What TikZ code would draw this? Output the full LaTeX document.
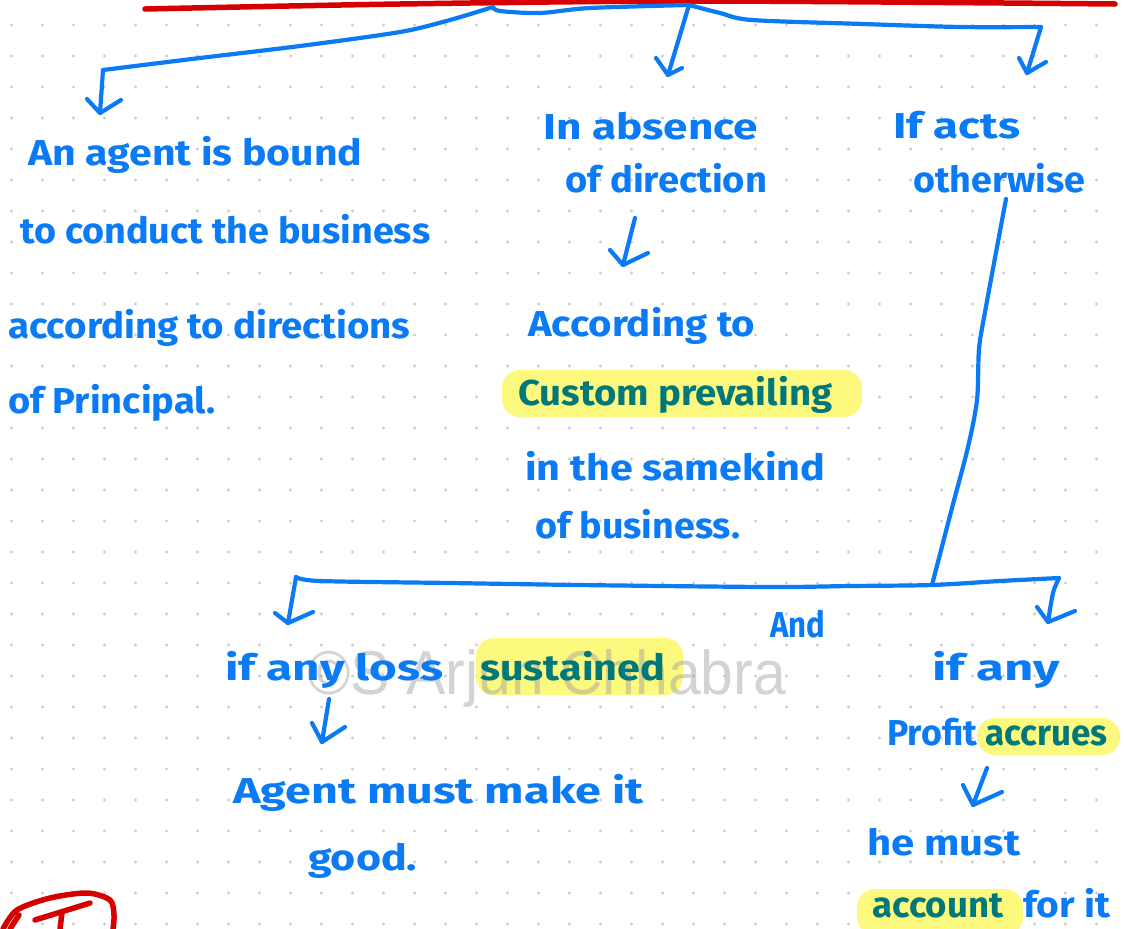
\documentclass[tikz,border=0pt]{standalone}
\usepackage{fontspec}
\setmainfont{Fira Sans}
\newfontfamily\markfont{Liberation Sans}
\usepackage{graphicx}
\definecolor{pen}{HTML}{0A7BF4}
\definecolor{tealink}{HTML}{00787A}
\definecolor{hilite}{HTML}{FDF97F}
\definecolor{redink}{HTML}{D60000}
\definecolor{dotc}{HTML}{CCCCCC}
\definecolor{wm}{HTML}{9E9E9E}
% stretch a line of writing horizontally to a given width, keeping its height
\newcommand{\handline}[2]{\resizebox{#1pt}{\height}{#2}}
\begin{document}
\begin{tikzpicture}[x=1pt,y=-1pt,
  ink/.style={draw=pen, line width=4.2pt, line cap=round, line join=round},
  redpen/.style={draw=redink, line width=5.5pt, line cap=round, line join=round},
  hand/.style={font=\fontsize{36}{40}\selectfont\bfseries, text=pen, inner sep=0pt, anchor=base west},
  marked/.style={hand, text=tealink},
  glow/.style={fill=hilite, rounded corners=18pt, draw=none}]

\useasboundingbox (0,0) rectangle (1125,929);
\fill[white] (0,0) rectangle (1125,929);

% dotted page
\foreach \i in {0,...,35}
  \foreach \j in {0,...,29}
    \fill[dotc] (11.5+31*\i, 25+31*\j) circle (1.6pt);

% highlighter marks
\fill[glow] (502,370) rectangle (862,417);
\fill[glow] (476,638) rectangle (683,695);
\fill[glow] (977,718) rectangle (1120,755);
\fill[glow] (857,889) rectangle (1023,935);

% watermark
\node[anchor=base west, inner sep=0pt, text=wm, opacity=0.45] (mark) at (307,694)
  {\resizebox{479pt}{\height}{\markfont\fontsize{62}{70}\selectfont ©S Arjun Chhabra}};

% red heading rule and corner mark
\draw[redpen] plot[smooth] coordinates {(145,9) (400,4) (700,1) (1115,4)};
\draw[redpen] plot[smooth] coordinates {(3,929) (17,910) (50,898) (87,893) (110,900) (114,915) (113,929)};
\draw[redpen] (10,929) -- (19,915);
\draw[redpen] (35,920) -- (90,903);
\draw[redpen] (62,913) -- (60,929);

% ---------- text ----------
\node[hand] (l1) at (28,165) {\handline{334}{An agent is bound}};
\node[hand] (l2) at (20,243) {\handline{410}{to conduct the business}};
\node[hand] (l3) at (8,338) {\handline{402}{according to directions}};
\node[hand] (l4) at (8,413) {\handline{207}{of Principal.}};

\node[hand] (m1) at (543,139) {\handline{215}{In absence}};
\node[hand] (m2) at (565,192) {\handline{202}{of direction}};
\node[hand] (m3) at (528,336) {\handline{227}{According to}};
\node[marked] (m4) at (518,405) {\handline{314}{Custom prevailing}};
\node[hand] (m5) at (525,480) {\handline{300}{in the samekind}};
\node[hand] (m6) at (535,538) {\handline{205}{of business.}};

\node[hand] (r1) at (893,138) {\handline{127}{If acts}};
\node[hand] (r2) at (913,192) {\handline{172}{otherwise}};

\node[hand] (and) at (770,637) {\handline{55}{And}};

\node[hand] (b1) at (225,680) {\handline{218}{if any loss}};
\node[marked] (b2) at (480,680) {\handline{185}{sustained}};
\node[hand] (b3) at (233,803) {\handline{410}{Agent must make it}};
\node[hand] (b4) at (308,870) {\handline{109}{good.}};

\node[hand] (c1) at (932,680) {\handline{128}{if any}};
\node[hand] (c2) at (887,745) {\handline{90}{Profit}};
\node[marked] (c3) at (985,745) {\handline{122}{accrues}};
\node[hand] (c4) at (867,855) {\handline{153}{he must}};
\node[marked] (c5) at (872,917) {\handline{131}{account}};
\node[hand] (c6) at (1023,917) {\handline{87}{for it}};

% ---------- top bracket ----------
\coordinate (top) at (493,7);
\coordinate (mid) at (689,5);
\coordinate (lcorner) at (103,70);
\coordinate (rcorner) at (1041,27);
\coordinate (ltip) at (100,113);
\coordinate (mtip) at (668,75);
\coordinate (rtip) at (1027,73);

\draw[ink] plot[smooth] coordinates {(top) (450,20) (400,32) (300,46) (200,58) (lcorner)};
\draw[ink] plot[smooth] coordinates {(top) (500,11) (540,13) (590,8) (mid)};
\draw[ink] plot[smooth] coordinates {(mid) (720,13) (752,20) (863,24) (960,27) (rcorner)};

\draw[ink] (lcorner) -- (ltip);
\draw[ink] (87,99) -- (ltip) -- (121,100);
\draw[ink] (mid) -- (mtip);
\draw[ink] (656,58) -- (mtip) -- (682,68);
\draw[ink] (rcorner) -- (rtip);
\draw[ink] (1019,58) -- (rtip) -- (1046,62);

% arrow between the middle texts
\coordinate (dtip) at (623,265);
\draw[ink] (635,218) -- (dtip);
\draw[ink] (610,250) -- (dtip) -- (648,253);

% ---------- long drop and lower bracket ----------
\coordinate (drop) at (932,585);
\draw[ink] plot[smooth] coordinates {(1006,199) (1000,231) (985,312) (979,349) (977,400) (968,447) (952,508) (drop)};

\coordinate (bl) at (296,577);
\coordinate (br) at (1059,578);
\draw[ink] plot[smooth] coordinates {(bl) (320,581) (450,583) (578,585) (769,587) (850,586) (drop) (1000,581) (br)};

\coordinate (bltip) at (288,623);
\coordinate (brtip) at (1048,622);
\draw[ink] (bl) -- (bltip);
\draw[ink] (275,613) -- (bltip) -- (313,612);
\draw[ink] plot[smooth] coordinates {(br) (1053,593) (brtip)};
\draw[ink] (1037,607) -- (brtip) -- (1075,611);

% small arrows below the lower branches
\coordinate (lltip) at (322,742);
\draw[ink] (329,699) -- (lltip);
\draw[ink] (312,723) -- (lltip) -- (345,727);

\coordinate (rrtip) at (973,805);
\draw[ink] (987,768) -- (rrtip);
\draw[ink] (963,785) -- (rrtip) -- (1002,792);

\end{tikzpicture}
\end{document}
